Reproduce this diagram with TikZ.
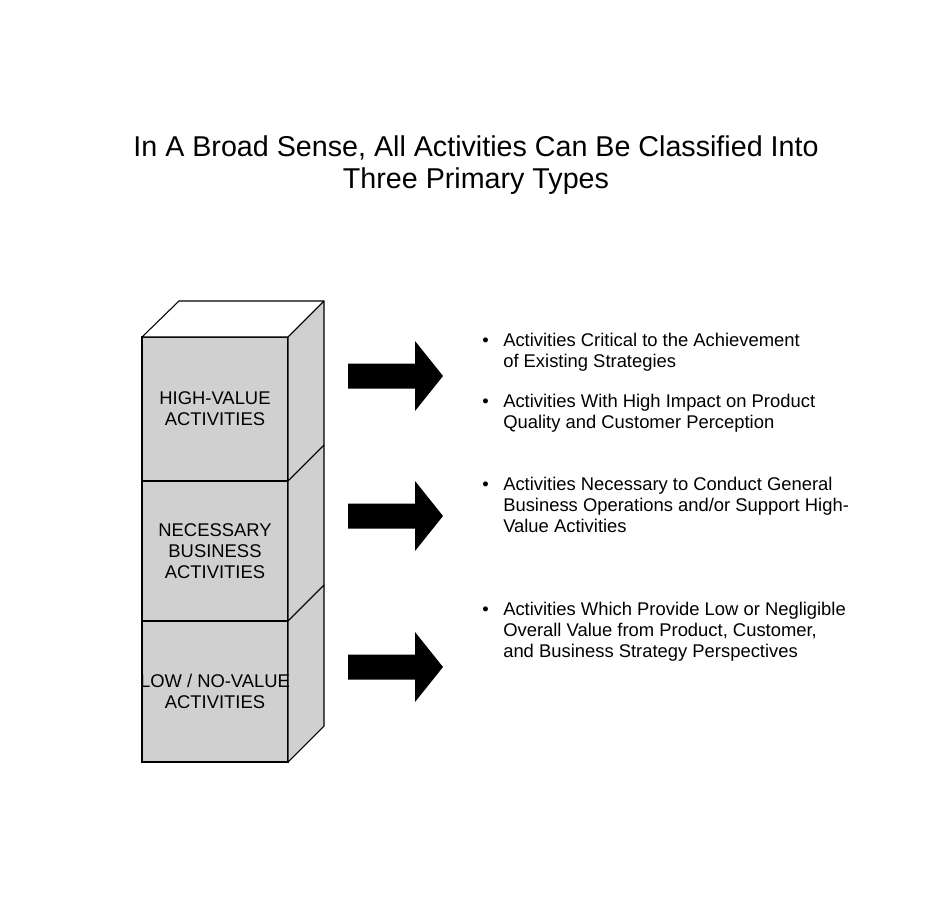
\documentclass[tikz,border=0pt]{standalone}
\usepackage{fontspec}
\setmainfont{Liberation Sans}
\usetikzlibrary{positioning,calc}
\definecolor{boxgray}{HTML}{D0D0D0}
\tikzset{
    facebox/.style={draw, fill=boxgray, line width=0.8pt, inner sep=0pt, outer sep=0pt, minimum width=109.5pt},
    boxlabel/.style={align=center, inner sep=0pt, font=\fontsize{13.8}{15.75}\selectfont},
    sideface/.style={draw, fill=boxgray, line width=0.8pt, line join=round},
    itemtext/.style={anchor=base west, inner sep=0pt, align=left, font=\fontsize{13.8}{15.75}\selectfont},
    itembullet/.style={anchor=base west, inner sep=0pt, font=\fontsize{13.8}{15.75}\selectfont}
}
\begin{document}
\begin{tikzpicture}[x=0.75pt, y=-0.75pt]
    \useasboundingbox (0,0) rectangle (950,903);
    % Titel
    \node[anchor=base, inner sep=0pt, align=center, font=\fontsize{21.5}{24}\selectfont] (title) at (476,188)
        {In A Broad Sense, All Activities Can Be Classified Into\\Three Primary Types};
    % Blöcke
    \node[facebox, minimum height=108pt] (hvBox) at (215,409) {};
    \node[facebox, minimum height=105pt, below=0pt of hvBox] (nbBox) {};
    \node[facebox, minimum height=105.75pt, below=0pt of nbBox] (lvBox) {};
    \draw[sideface, fill=white] (hvBox.north west) -- ++(37,-36) -- ($(hvBox.north east)+(36,-36)$) -- (hvBox.north east) -- cycle;
    \foreach \b in {hvBox, nbBox, lvBox}
        \draw[sideface] (\b.north east) -- ++(36,-36) -- ($(\b.south east)+(36,-36)$) -- (\b.south east) -- cycle;
    \node[boxlabel] (hvLabel) at (hvBox) {HIGH-VALUE\\ACTIVITIES};
    \node[boxlabel] (nbLabel) at (nbBox) {NECESSARY\\BUSINESS\\ACTIVITIES};
    \node[boxlabel] (lvLabel) at (lvBox) {LOW / NO-VALUE\\ACTIVITIES};
    % Pfeile
    \foreach \y in {376, 516, 667}
        \fill (348,\y-12.5) -- (415,\y-12.5) -- (415,\y-35) -- (443,\y) -- (415,\y+35) -- (415,\y+12.5) -- (348,\y+12.5) -- cycle;
    % Punkte
    \foreach \y/\n in {346/a, 407/b, 490/c, 615/d}
        \node[itembullet] (bul\n) at (482,\y) {\textbullet};
    \node[itemtext] (itemA) at (503,367) {Activities Critical to the Achievement\\of Existing Strategies};
    \node[itemtext] (itemB) at (503,428) {Activities With High Impact on Product\\Quality and Customer Perception};
    \node[itemtext] (itemC) at (503,532) {Activities Necessary to Conduct General\\Business Operations and/or Support High-\\Value Activities};
    \node[itemtext] (itemD) at (503,657) {Activities Which Provide Low or Negligible\\Overall Value from Product, Customer,\\and Business Strategy Perspectives};
\end{tikzpicture}
\end{document}
